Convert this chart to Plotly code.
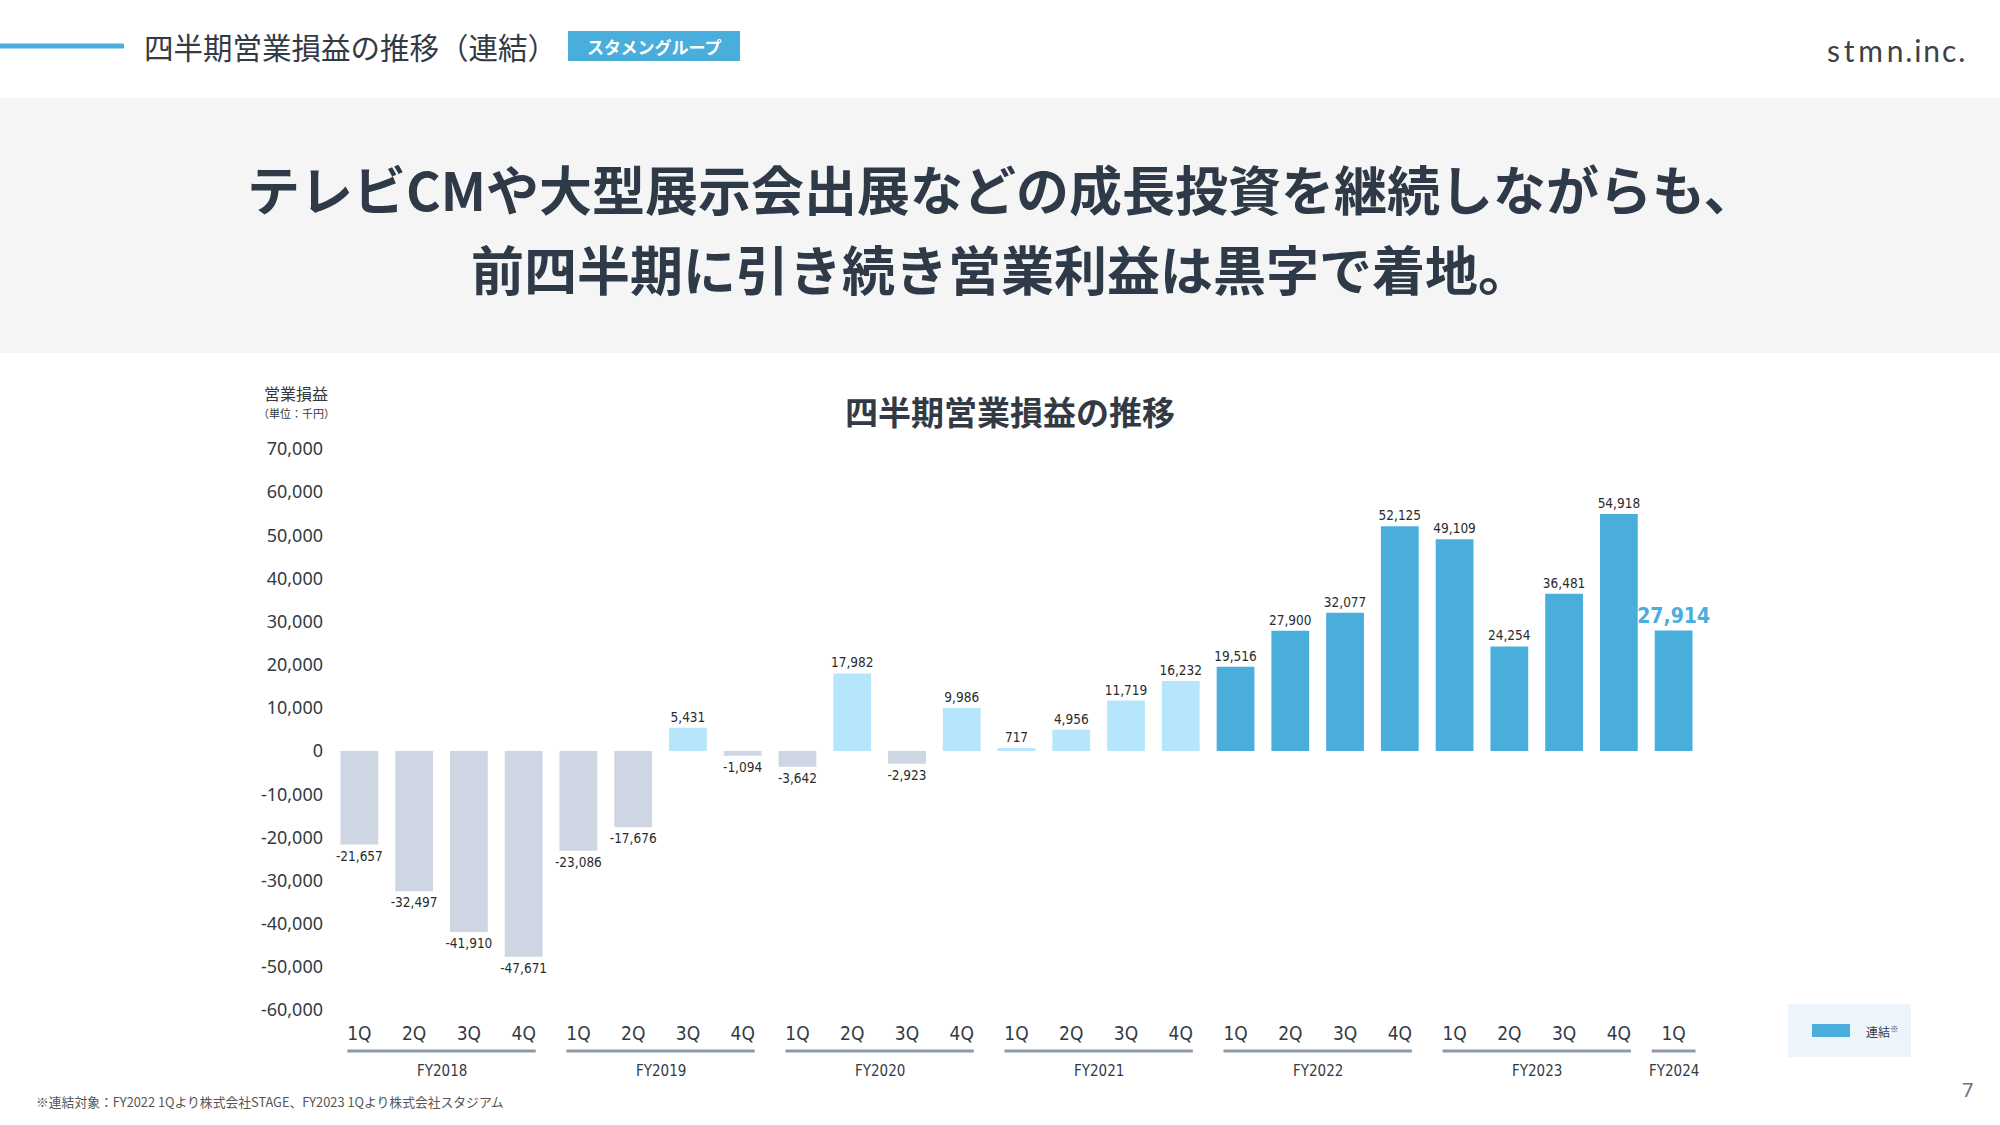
import plotly.graph_objects as go

# ---------------- data ----------------
fiscal_years = ["FY2018"] * 4 + ["FY2019"] * 4 + ["FY2020"] * 4 + ["FY2021"] * 4 + ["FY2022"] * 4 + ["FY2023"] * 4 + ["FY2024"]
quarters = ["1Q", "2Q", "3Q", "4Q"] * 6 + ["1Q"]
operating_income = [
    -21657, -32497, -41910, -47671,
    -23086, -17676, 5431, -1094,
    -3642, 17982, -2923, 9986,
    717, 4956, 11719, 16232,
    19516, 27900, 32077, 52125,
    49109, 24254, 36481, 54918,
    27914,
]
consolidated_from = "FY2022"
y_ticks = [70000, 60000, 50000, 40000, 30000, 20000, 10000, 0, -10000, -20000, -30000, -40000, -50000, -60000]

# ---------------- styling ----------------
W, H = 2000, 1125
PL, PR, PT, PB = 332, 1701, 449, 1010
BLUE = "#4AAEDD"
LIGHT = "#B5E6FB"
GREY = "#CDD6E2"
DARK = "#2F3A48"
JP = "Noto Sans CJK JP"
NARROW = "Liberation Sans Narrow, DejaVu Sans Condensed, Roboto, sans-serif"


def px(x):
    return (x - PL) / (PR - PL)


def py(y):
    return (PB - y) / (PB - PT)


cats = [f"{fy} {q}" for fy, q in zip(fiscal_years, quarters)]
colors = []
for fy, v in zip(fiscal_years, operating_income):
    if v < 0:
        colors.append(GREY)
    elif fy >= consolidated_from:
        colors.append(BLUE)
    else:
        colors.append(LIGHT)

n = len(operating_income)
text_colors = ["#2b2b2b"] * (n - 1) + [BLUE]
text_sizes = [13.5] * (n - 1) + [21]
texts = [f"{v:,}" for v in operating_income]
texts[-1] = f"<b>{operating_income[-1]:,}</b>"

fig = go.Figure()
fig.add_trace(go.Bar(
    x=cats, y=operating_income, marker_color=colors, marker_line_width=0,
    text=texts, textposition="outside", constraintext="none", cliponaxis=False,
    textfont=dict(family=NARROW, size=text_sizes, color=text_colors),
    showlegend=False, hoverinfo="x+y",
))

shapes = []
annotations = []

# header band
shapes.append(dict(type="rect", xref="paper", yref="paper", x0=px(0), x1=px(W), y0=py(353), y1=py(98),
                   fillcolor="#F5F5F5", line_width=0, layer="below"))
# top-left blue line
shapes.append(dict(type="line", xref="paper", yref="paper", x0=px(0), x1=px(124), y0=py(46), y1=py(46),
                   line=dict(color=BLUE, width=5)))
annotations.append(dict(xref="paper", yref="paper", x=px(142), y=py(46), xanchor="left", yanchor="middle",
                        text="四半期営業損益の推移（連結）", showarrow=False,
                        font=dict(family=JP, size=29.5, color="#333a44")))
# badge
shapes.append(dict(type="rect", xref="paper", yref="paper", x0=px(568), x1=px(740), y0=py(61), y1=py(31),
                   fillcolor=BLUE, line_width=0))
annotations.append(dict(xref="paper", yref="paper", x=px(654), y=py(46), xanchor="center", yanchor="middle",
                        text="<b>スタメングループ</b>", showarrow=False,
                        font=dict(family=JP, size=17, color="white")))
# logo
annotations.append(dict(xref="paper", yref="paper", x=px(1967), y=py(50), xanchor="right", yanchor="middle",
                        text="s\u2009t\u2009m\u2009n\u200a.\u200ai\u200an\u200ac\u200a.", showarrow=False,
                        font=dict(family="Lato, Inter, sans-serif", size=30, color="#3d4247")))
# headline
annotations.append(dict(xref="paper", yref="paper", x=px(1001), y=py(188), xanchor="center", yanchor="middle",
                        text="テレビCMや大型展示会出展などの成長投資を継続しながらも、", showarrow=False,
                        font=dict(family=JP, size=53, color=DARK, weight=700)))
annotations.append(dict(xref="paper", yref="paper", x=px(1001), y=py(268), xanchor="center", yanchor="middle",
                        text="前四半期に引き続き営業利益は黒字で着地。", showarrow=False,
                        font=dict(family=JP, size=53, color=DARK, weight=700)))
# chart title
annotations.append(dict(xref="paper", yref="paper", x=px(1010), y=py(411), xanchor="center", yanchor="middle",
                        text="四半期営業損益の推移", showarrow=False,
                        font=dict(family=JP, size=33, color="#333a44", weight=700)))
# y axis title
annotations.append(dict(xref="paper", yref="paper", x=px(296), y=py(393), xanchor="center", yanchor="middle",
                        text="営業損益", showarrow=False, font=dict(family=JP, size=16, color="#333a44")))
annotations.append(dict(xref="paper", yref="paper", x=px(296), y=py(413), xanchor="center", yanchor="middle",
                        text="（単位：千円）", showarrow=False, font=dict(family=JP, size=11, color="#333a44")))

# fiscal-year group lines and labels
groups = []
for i, fy in enumerate(fiscal_years):
    if not groups or groups[-1][0] != fy:
        groups.append([fy, i, i])
    else:
        groups[-1][2] = i
for fy, a, b in groups:
    pad = 0.22 if b > a else 0.4
    shapes.append(dict(type="line", xref="x", yref="paper", x0=a - pad, x1=b + pad, y0=py(1051), y1=py(1051),
                       line=dict(color="#8E9AA8", width=3)))
    annotations.append(dict(xref="x", yref="paper", x=(a + b) / 2, y=py(1071), xanchor="center", yanchor="middle",
                            text=fy, showarrow=False, font=dict(family=NARROW, size=15, color="#333a44")))

# legend box
shapes.append(dict(type="rect", xref="paper", yref="paper", x0=px(1788), x1=px(1911), y0=py(1057), y1=py(1004),
                   fillcolor="#EEF4FC", line_width=0))
shapes.append(dict(type="rect", xref="paper", yref="paper", x0=px(1812), x1=px(1850), y0=py(1037), y1=py(1024),
                   fillcolor=BLUE, line_width=0))
annotations.append(dict(xref="paper", yref="paper", x=px(1864), y=py(1031), xanchor="left", yanchor="middle",
                        text="連結<sup>※</sup>", showarrow=False, font=dict(family=JP, size=12, color="#333a44")))

# footnote and page number
annotations.append(dict(xref="paper", yref="paper", x=px(34), y=py(1101), xanchor="left", yanchor="middle",
                        text="※連結対象：FY2022 1Qより株式会社STAGE、FY2023 1Qより株式会社スタジアム", showarrow=False,
                        font=dict(family=JP, size=12.8, color="#555")))
annotations.append(dict(xref="paper", yref="paper", x=px(1975), y=py(1089), xanchor="right", yanchor="middle",
                        text="7", showarrow=False, font=dict(family="Noto Sans", size=20, color="#6a7385")))

fig.update_layout(
    width=W, height=H,
    margin=dict(l=PL, r=W - PR, t=PT, b=H - PB),
    paper_bgcolor="white", plot_bgcolor="white",
    bargap=0.31,
    shapes=shapes, annotations=annotations,
    xaxis=dict(
        type="category", tickvals=cats, ticktext=quarters, showgrid=False, zeroline=False, showline=False,
        ticks="", ticklabelstandoff=10, tickfont=dict(family=NARROW, size=19, color="#333a44"),
        range=[-0.5, n - 0.5],
    ),
    yaxis=dict(
        range=[-60000, 70000], tickvals=y_ticks, ticktext=[f"{t:,}" for t in y_ticks],
        showgrid=False, zeroline=False, showline=False, ticks="", ticklabelstandoff=8,
        tickfont=dict(family="Noto Sans", size=18, color="#333a44"),
    ),
)

fig.write_html("out.html", config={"displayModeBar": False},
               post_script="document.body.style.margin='0px';document.body.style.overflow='hidden';")
